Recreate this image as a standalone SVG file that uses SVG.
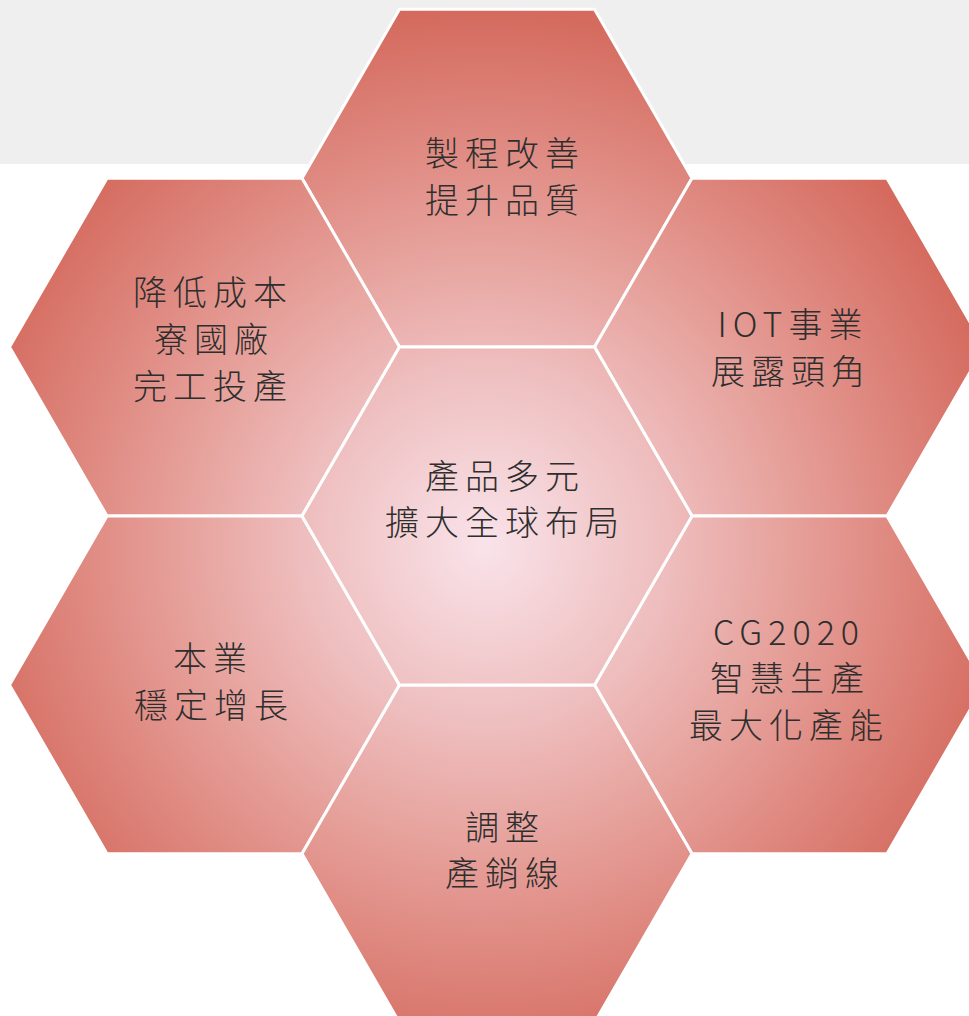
<svg xmlns="http://www.w3.org/2000/svg" width="969" height="1016" viewBox="0 0 969 1016">
<defs>
<radialGradient id="g" gradientUnits="userSpaceOnUse" cx="485" cy="545" r="560">
<stop offset="0" stop-color="#f9e3ea"/>
<stop offset="0.33" stop-color="#eebdbd"/>
<stop offset="0.55" stop-color="#e6a09a"/>
<stop offset="0.95" stop-color="#d56b5f"/>
<stop offset="1" stop-color="#d4685c"/>
</radialGradient>
<style>
.hex{fill:url(#g);stroke:#ffffff;stroke-width:3;stroke-linejoin:miter}
.lbl{font-family:"Noto Sans CJK TC","Noto Sans CJK SC",sans-serif;font-size:34px;font-weight:300;fill:#2e2e2e;text-anchor:middle;letter-spacing:6px}
</style>
</defs>
<rect x="0" y="0" width="969" height="1016" fill="#ffffff"/>
<rect x="0" y="0" width="969" height="164" fill="#efefef"/>
<g id="connectors"/>
<g id="node-top">
<polygon class="hex" points="302,178.2 399.5,9.3 594.5,9.3 692,178.2 594.5,347.1 399.5,347.1"/>
<text class="lbl" x="505" y="166">製程改善</text>
<text class="lbl" x="505" y="213">提升品質</text>
</g>
<g id="node-upper-left">
<polygon class="hex" points="9.5,347.1 107,178.2 302,178.2 399.5,347.1 302,516 107,516"/>
<text class="lbl" x="213" y="305">降低成本</text>
<text class="lbl" x="214" y="352">寮國廠</text>
<text class="lbl" x="213" y="399">完工投產</text>
</g>
<g id="node-upper-right">
<polygon class="hex" points="594.5,347.1 692,178.2 887,178.2 984.5,347.1 887,516 692,516"/>
<text class="lbl" x="793" y="337">IOT事業</text>
<text class="lbl" x="791" y="384">展露頭角</text>
</g>
<g id="node-lower-left">
<polygon class="hex" points="9.5,684.9 107,516 302,516 399.5,684.9 302,853.8 107,853.8"/>
<text class="lbl" x="213" y="671">本業</text>
<text class="lbl" x="214" y="718">穩定增長</text>
</g>
<g id="node-lower-right">
<polygon class="hex" points="594.5,684.9 692,516 887,516 984.5,684.9 887,853.8 692,853.8"/>
<text class="lbl" x="789" y="645">CG2020</text>
<text class="lbl" x="790" y="691">智慧生產</text>
<text class="lbl" x="789" y="738">最大化產能</text>
</g>
<g id="node-bottom">
<polygon class="hex" points="302,853.8 399.5,684.9 594.5,684.9 692,853.8 594.5,1022.7 399.5,1022.7"/>
<text class="lbl" x="505" y="840">調整</text>
<text class="lbl" x="505" y="886">產銷線</text>
</g>
<g id="node-center">
<polygon class="hex" points="302,516 399.5,347.1 594.5,347.1 692,516 594.5,684.9 399.5,684.9"/>
<text class="lbl" x="505" y="489">產品多元</text>
<text class="lbl" x="505" y="535">擴大全球布局</text>
</g>
</svg>
